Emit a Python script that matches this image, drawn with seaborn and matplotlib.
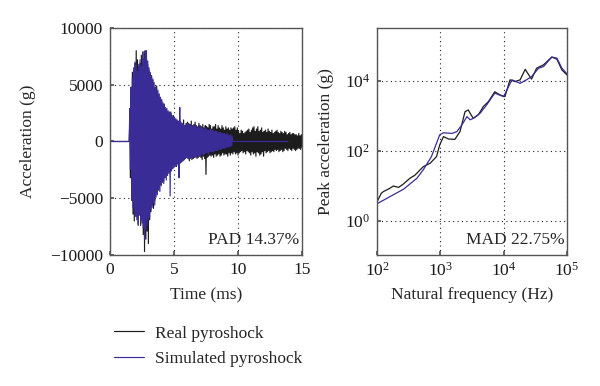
"""
Pyroshock comparison: time history (left) and shock response spectrum (right).
"""
import numpy as np
import pandas as pd
import matplotlib
matplotlib.use("Agg")
import matplotlib.pyplot as plt
from matplotlib.ticker import LogLocator, NullFormatter, NullLocator
import seaborn as sns

# ---- time histories (g), sampled every DT ms from ONSET ----
ONSET = 1.55
DT = 0.05
SIM_END = 13.9  # simulated record stays flat after its last sample

real_acc = [
    1800, -3200, 4500, -5200, 6100, -6400, 5600, -7000, 6900, -5800,
    8000, -6600, 7200, -7300, 6600, -6100, 6900, -7400, 7600, -6800,
    7100, -8200, 7900, -9700, 8000, -8600, 7400, -7900, 6800, -9000,
    6300, -6900, 5900, -6200, 5800, -5600, 5400, -5900, 4700, -5200,
    4600, -4500, 4900, -4300, 4100, -4100, 3900, -3800, 3600, -3900,
    3500, -3300, 3200, -3500, 3100, -2900, 2800, -3100, 2600, -2700,
    2500, -2600, 2400, -2300, 2600, -2200, 2100, -2400, 2300, -2000,
    2000, -2100, 1900, -2200, 1800, -1900, 1700, -1800, 1900, -1700,
    1600, -1800, 1500, -1700, 1900, -1600, 1400, -1500, 1600, -1400,
    1700, -1500, 1600, -1700, 1500, -1400, 1800, -1600, 1400, -1500,
    1500, -1400, 1700, -1300, 1400, -1500, 1300, -1400, 1600, -1300,
    1400, -1400, 1300, -1600, 1500, -1300, 1200, -1500, 1400, -2900,
    1300, -1400, 1200, -1300, 1500, -1200, 1400, -1300, 1100, -1200,
    1300, -1400, 1300, -1100, 1500, -1300, 1100, -1200, 1400, -1100,
    1200, -1300, 1100, -1200, 1400, -1000, 1200, -1200, 1000, -1100,
    1300, -1100, 1100, -1300, 1200, -1000, 1000, -1200, 1200, -1000,
    1100, -1100, 1200, -900, 1300, -1100, 1000, -1000, 1200, -1200,
    900, -1000, 700, -900, 1000, -800, 900, -1000, 700, -900,
    800, -1100, 900, -800, 1000, -900, 1100, -1000, 800, -1200,
    1000, -900, 1200, -1100, 1300, -1000, 900, -1300, 1100, -900,
    1300, -1000, 900, -1200, 1000, -1100, 1200, -900, 800, -1300,
    900, -800, 1000, -1000, 800, -900, 1100, -800, 900, -1000,
    800, -900, 1000, -800, 700, -900, 800, -700, 900, -800,
    1000, -700, 800, -900, 700, -800, 900, -700, 800, -900,
    700, -800, 900, -600, 800, -700, 600, -800, 700, -600,
    800, -700, 600, -800, 700, -600, 700, -700, 600, -800,
    600, -700, 500, -600, 700, -600, 500, -700, 600, -500,
]

sim_acc = [
    2900, -2400, 4800, -5100, 5600, -5800, 6500, -6200, 7000, -6600,
    6700, -6900, 6200, -7400, 6800, -6500, 7200, -7000, 6600, -7200,
    7900, -7600, 7300, -8600, 8000, -7800, 8000, -7400, 7100, -6900,
    6500, -6700, 6100, -6000, 5700, -5800, 5500, -5400, 5200, -5600,
    4800, -4900, 4600, -4700, 4500, -4300, 4200, -4400, 3900, -3800,
    3700, -3600, 3400, -3700, 3300, -3200, 3000, -3400, 2900, -3000,
    2700, -2800, 2600, -4800, 2500, -2600, 2300, -2400, 2200, -2300,
    2100, -2200, 2000, -2100, 1900, -2000, 1800, -3200, 3000, -1900,
    1700, -1800, 1600, -1700, 1500, -1600, 1400, -1500, 1500, -1400,
    1600, -1500, 1500, -1600, 1400, -1500, 1500, -1400, 1300, -1500,
    1400, -1300, 1500, -1400, 1300, -1400, 1200, -1300, 1400, -1300,
    1200, -1200, 1300, -1100, 1200, -1200, 1100, -1100, 1200, -1000,
    1100, -1000, 1000, -1100, 1000, -900, 1100, -900, 1000, -900,
    1000, -900, 900, -800, 900, -800, 900, -800, 800, -700,
    800, -700, 800, -700, 700, -600, 700, -600, 700, -600,
    600, -500, 700, -500, 600, -500, 500, -400, 600, -400,
    400,
]

# ---- shock response spectra ----
real_freq = [100, 117, 126, 158, 182, 219, 263, 331, 398, 537, 692, 871,
             977, 1122, 1349, 1698, 2042, 2455, 2754, 3311, 3981, 4786,
             5754, 7244, 8710, 10470, 12590, 15140, 18200, 21880, 27540,
             33110, 42660, 57540, 69180, 83180, 100000]
real_peak = [3.5, 6.2, 6.9, 8.5, 10, 9.1, 11.5, 16.6, 20.4, 35.5, 44.7, 69,
             148, 257, 219, 214, 355, 1318, 1479, 851, 1072, 1862, 2570,
             4898, 3981, 3548, 10720, 9550, 10720, 21380, 11220, 22910,
             28840, 47860, 41690, 20420, 14790]

sim_freq = [100, 158, 263, 427, 537, 724, 977, 1122, 1514, 1820, 2188, 2630,
            2951, 3311, 4266, 5370, 7244, 10000, 13490, 18200, 22910, 27540,
            35480, 42660, 57540, 69180, 83180, 100000]
sim_peak = [3.1, 4.9, 8.1, 16.6, 28.8, 69, 288, 331, 316, 355, 550, 955, 776,
            851, 1202, 2042, 4467, 3548, 10720, 8511, 10720, 13180, 22910,
            25700, 47860, 44670, 22910, 15850]

labels = ["Real pyroshock", "Simulated pyroshock"]
colors = ["#1c1c1c", "#3a2c96"]


def time_frame(values, tail=None):
    t = ONSET + DT * np.arange(len(values))
    t = np.concatenate([[0.0, ONSET - DT], t])
    a = np.concatenate([[0.0, 0.0], values])
    if tail is not None:
        t = np.concatenate([t, [t[-1] + DT, tail]])
        a = np.concatenate([a, [0.0, 0.0]])
    return pd.DataFrame({"t": t, "a": a})


sns.set_theme(style="ticks")
plt.rcParams["font.family"] = ["Liberation Serif", "DejaVu Serif"]
plt.rcParams["mathtext.fontset"] = "custom"
plt.rcParams["mathtext.rm"] = "Liberation Serif"
plt.rcParams["mathtext.it"] = "Liberation Serif:italic"
plt.rcParams["axes.edgecolor"] = "#555555"
plt.rcParams["axes.linewidth"] = 1.0

fig = plt.figure(figsize=(6.0, 3.86), dpi=100)
ax1 = fig.add_axes([0.1833, 0.3394, 0.32, 0.5881])
ax2 = fig.add_axes([0.6283, 0.3394, 0.3167, 0.5881])

FS = 12.5
grid_kw = dict(color="#222222", linestyle=(0, (1, 3)), linewidth=0.8)

# left panel: time history
real_df = time_frame(real_acc)
sim_df = time_frame(sim_acc, tail=SIM_END)
sns.lineplot(data=real_df, x="t", y="a", ax=ax1, color=colors[0],
             linewidth=0.85, sort=False, estimator=None, label=labels[0])
sns.lineplot(data=sim_df, x="t", y="a", ax=ax1, color=colors[1],
             linewidth=0.85, sort=False, estimator=None, label=labels[1])
ax1.set_xlim(0, 15)
ax1.set_ylim(-10000, 10000)
ax1.set_xticks([0, 5, 10, 15])
ax1.set_yticks([-10000, -5000, 0, 5000, 10000])
ax1.set_yticklabels(["\u221210000", "\u22125000", "0", "5000", "10000"])
ax1.grid(True, **grid_kw)
ax1.set_axisbelow(True)
ax1.set_xlabel("Time (ms)", fontsize=FS, labelpad=7)
ax1.set_ylabel("Acceleration (g)", fontsize=FS, labelpad=10)
ax1.text(0.985, 0.03, "PAD 14.37%", transform=ax1.transAxes,
         ha="right", va="bottom", fontsize=FS)

# right panel: shock response spectrum
real_srs = pd.DataFrame({"f": real_freq, "g": real_peak})
sim_srs = pd.DataFrame({"f": sim_freq, "g": sim_peak})
sns.lineplot(data=real_srs, x="f", y="g", ax=ax2, color=colors[0],
             linewidth=0.9, sort=False, estimator=None)
sns.lineplot(data=sim_srs, x="f", y="g", ax=ax2, color=colors[1],
             linewidth=0.9, sort=False, estimator=None)
ax2.set_xscale("log")
ax2.set_yscale("log")
ax2.set_xlim(1e2, 1e5)
ax2.set_ylim(10 ** -0.97, 10 ** 5.51)
ax2.set_xticks([1e2, 1e3, 1e4, 1e5])
ax2.xaxis.set_minor_locator(LogLocator(base=10, subs=np.arange(2, 10)))
ax2.xaxis.set_minor_formatter(NullFormatter())
ax2.set_yticks([1, 1e2, 1e4])
ax2.yaxis.set_minor_locator(NullLocator())
ax2.grid(True, which="major", **grid_kw)
ax2.grid(True, which="minor", axis="x", **grid_kw)
ax2.set_axisbelow(True)
ax2.set_xlabel("Natural frequency (Hz)", fontsize=FS, labelpad=5)
ax2.set_ylabel("Peak acceleration (g)", fontsize=FS, labelpad=8)
ax2.text(0.985, 0.03, "MAD 22.75%", transform=ax2.transAxes,
         ha="right", va="bottom", fontsize=FS)

for ax in (ax1, ax2):
    ax.tick_params(axis="both", which="both", direction="in", labelsize=FS,
                   colors="#555555", labelcolor="#1a1a1a", length=3, pad=5)
    ax.tick_params(which="minor", length=1.5)
    for s in ax.spines.values():
        s.set_visible(True)
    if ax.get_legend() is not None:
        ax.get_legend().remove()

handles = ax1.get_lines()[:2]
fig.legend(handles, labels, loc="upper left", bbox_to_anchor=(0.178, 0.175),
           frameon=False, fontsize=FS, handlelength=1.75, handletextpad=0.65,
           labelspacing=0.55, borderaxespad=0)

fig.savefig("out.png", dpi=100)
plt.close(fig)
